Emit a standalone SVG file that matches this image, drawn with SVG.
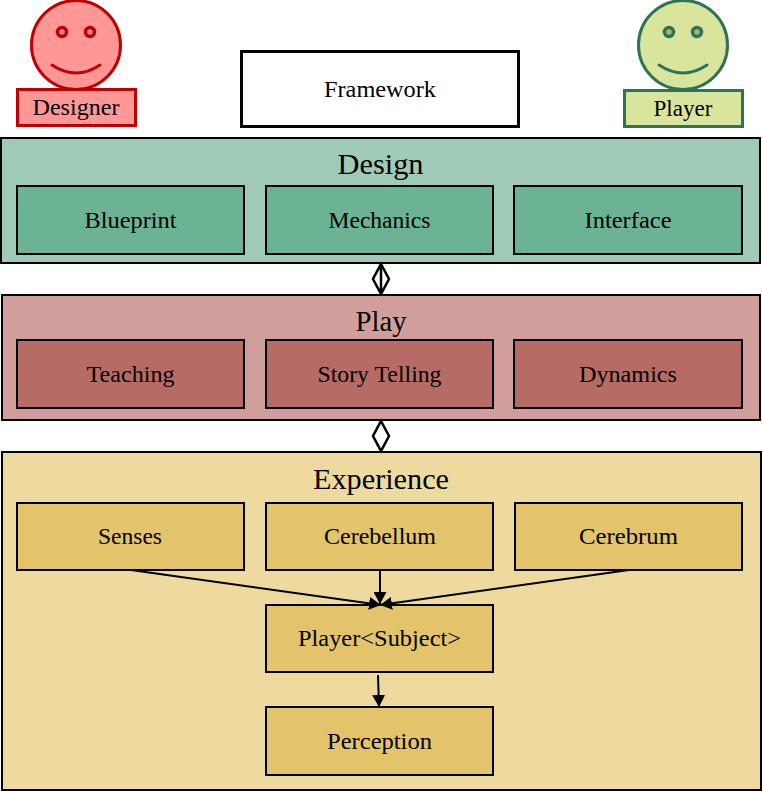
<svg xmlns="http://www.w3.org/2000/svg" width="762" height="791" viewBox="0 0 762 791">
<style>
text{font-family:"Liberation Serif","Times New Roman",serif;fill:#000;text-anchor:middle}
.t{font-size:23px}
.h{font-size:30px}
.b{stroke:#000;stroke-width:2}
.g{fill:#6cb394}.r{fill:#b76b65}.y{fill:#e3c46b}
.c{fill:none;stroke:#000;stroke-width:2}
.d{fill:none;stroke:#000;stroke-width:2.5}
</style>
<defs>
<marker id="a" markerWidth="13" markerHeight="13" refX="12" refY="6.500" orient="auto" markerUnits="userSpaceOnUse"><path d="M0 0L12 6.500L0 13Z" fill="#000"/></marker>
</defs>
<rect width="762" height="791" fill="#fff"/>
<g id="designer">
<circle cx="76" cy="45" r="44.500" fill="#ff9797" stroke="#c00000" stroke-width="3"/>
<circle cx="62" cy="32" r="4.500" fill="#d08a8a" stroke="#c00000" stroke-width="3.500"/>
<circle cx="90" cy="32" r="4.500" fill="#d08a8a" stroke="#c00000" stroke-width="3.500"/>
<path d="M52 65Q76 81 100 65" fill="none" stroke="#c00000" stroke-width="3" stroke-linecap="round"/>
<rect x="17.500" y="89.500" width="118" height="36" fill="#ff9797" stroke="#c00000" stroke-width="3"/>
<text class="t" x="76" y="115" textLength="87" lengthAdjust="spacingAndGlyphs">Designer</text>
</g>
<g id="player">
<circle cx="683" cy="45" r="44.500" fill="#d9e59c" stroke="#2e7355" stroke-width="3"/>
<circle cx="669" cy="32" r="4.500" fill="#a9b580" stroke="#2e7355" stroke-width="3.500"/>
<circle cx="697" cy="32" r="4.500" fill="#a9b580" stroke="#2e7355" stroke-width="3.500"/>
<path d="M659 65Q683 81 707 65" fill="none" stroke="#2e7355" stroke-width="3" stroke-linecap="round"/>
<rect x="624.500" y="90.500" width="118" height="36" fill="#d9e59c" stroke="#2e7355" stroke-width="3"/>
<text class="t" x="683" y="116" textLength="59" lengthAdjust="spacingAndGlyphs">Player</text>
</g>
<g id="framework">
<rect x="241.500" y="51.500" width="277" height="75" fill="#fff" stroke="#000" stroke-width="3"/>
<text class="t" x="380" y="97" textLength="112" lengthAdjust="spacingAndGlyphs">Framework</text>
</g>
<g id="design">
<rect class="b" x="1" y="138" width="759" height="125" fill="#9fcbb6"/>
<text class="h" x="380.500" y="174" textLength="86" lengthAdjust="spacingAndGlyphs">Design</text>
</g>
<g id="blueprint"><rect class="b g" x="17" y="186" width="227" height="68"/><text class="t" x="130.500" y="228" textLength="92" lengthAdjust="spacingAndGlyphs">Blueprint</text></g>
<g id="mechanics"><rect class="b g" x="266" y="186" width="227" height="68"/><text class="t" x="379.500" y="228" textLength="102" lengthAdjust="spacingAndGlyphs">Mechanics</text></g>
<g id="interface"><rect class="b g" x="514" y="186" width="228" height="68"/><text class="t" x="628" y="228" textLength="87" lengthAdjust="spacingAndGlyphs">Interface</text></g>
<g id="play">
<rect class="b" x="2" y="295" width="758" height="125" fill="#d19f9b"/>
<text class="h" x="381" y="331" textLength="51" lengthAdjust="spacingAndGlyphs">Play</text>
</g>
<g id="teaching"><rect class="b r" x="17" y="340" width="227" height="68"/><text class="t" x="130.500" y="382" textLength="88" lengthAdjust="spacingAndGlyphs">Teaching</text></g>
<g id="story-telling"><rect class="b r" x="266" y="340" width="227" height="68"/><text class="t" x="379.500" y="382" textLength="124" lengthAdjust="spacingAndGlyphs">Story Telling</text></g>
<g id="dynamics"><rect class="b r" x="514" y="340" width="228" height="68"/><text class="t" x="628" y="382" textLength="98" lengthAdjust="spacingAndGlyphs">Dynamics</text></g>
<g id="experience">
<rect class="b" x="2" y="452" width="759" height="338" fill="#eeda9f"/>
<text class="h" x="381" y="489" textLength="136" lengthAdjust="spacingAndGlyphs">Experience</text>
</g>
<g id="senses"><rect class="b y" x="17" y="503" width="227" height="67"/><text class="t" x="130" y="544" textLength="64" lengthAdjust="spacingAndGlyphs">Senses</text></g>
<g id="cerebellum"><rect class="b y" x="266" y="503" width="227" height="67"/><text class="t" x="380" y="544" textLength="112" lengthAdjust="spacingAndGlyphs">Cerebellum</text></g>
<g id="cerebrum"><rect class="b y" x="515" y="503" width="227" height="67"/><text class="t" x="628.500" y="544" textLength="99" lengthAdjust="spacingAndGlyphs">Cerebrum</text></g>
<g id="player-subject"><rect class="b y" x="266" y="605" width="227" height="67"/><text class="t" x="379.500" y="646" textLength="163" lengthAdjust="spacingAndGlyphs">Player&lt;Subject&gt;</text></g>
<g id="perception"><rect class="b y" x="266" y="707" width="227" height="68"/><text class="t" x="379.500" y="749" textLength="105" lengthAdjust="spacingAndGlyphs">Perception</text></g>
<g id="connectors">
<path class="d" d="M381 264L381 294M381 264L389 279L381 294L373 279Z"/>
<path class="d" d="M381 421L389 436L381 451L373 436Z"/>
<path class="c" d="M131 570L381 605" marker-end="url(#a)"/>
<path class="c" d="M380 570L380 604" marker-end="url(#a)"/>
<path class="c" d="M629 570L380 605" marker-end="url(#a)"/>
<path class="c" d="M378 675L379 707" marker-end="url(#a)"/>
</g>
</svg>
